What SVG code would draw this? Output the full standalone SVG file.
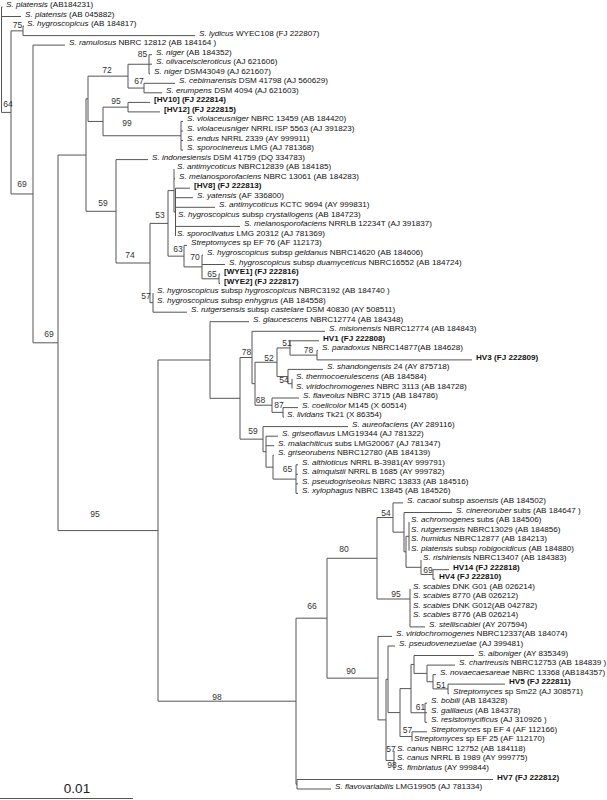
<svg xmlns="http://www.w3.org/2000/svg" width="607" height="800" viewBox="0 0 607 800">
<style>
.b{stroke:#555;stroke-width:1;fill:none}
.t{font-family:"Liberation Sans",Arial,sans-serif;font-size:8.1px;fill:#111}
.i{font-style:italic}
.h{font-weight:bold}
.s{font-family:"Liberation Sans",Arial,sans-serif;font-size:8.5px;fill:#333;text-anchor:middle}
</style>
<rect width="607" height="800" fill="#fff"/>
<g id="connectors" class="b">
<path id="root" d="M1.5 7V112.4M1.5 7H2.5M1.5 16.5H21M1.5 112.4H11"/>
<path id="n64" d="M11 30.85V193.95M11 30.85H23M11 193.95H33"/>
<path id="n75" d="M23 26.1V35.6M23 26.1H24M23 35.6H195"/>
<path id="n69a" d="M33 45.1V342.8M33 45.1H65M33 342.8H58"/>
<path id="n69b" d="M58 155.05V530.6M58 155.05H86M58 530.6H158"/>
<path id="x86" d="M86 98.8V211.3M86 98.8H88M86 211.3H116"/>
<path id="e" d="M88 76.15V121.45M88 76.15H128M88 121.45H103"/>
<path id="n72" d="M128 64.25V88.05M128 64.25H149M128 88.05H144"/>
<path id="n85" d="M149 54.7V73.8M149 54.7H152M149 64.2H152M149 73.8H150"/>
<path id="n67" d="M144 83.3V92.8M144 83.3H175M144 92.8H162"/>
<path id="d" d="M103 107.15V135.75M103 107.15H128M103 135.75H181"/>
<path id="n95a" d="M128 102.4V111.9M128 102.4H150M128 111.9H160"/>
<path id="n99" d="M181 121.4V150.1M181 121.4H183M181 131H183M181 140.5H183M181 150.1H183"/>
<path id="n59a" d="M116 159.6V263M116 159.6H148M116 263H150"/>
<path id="n74" d="M150 223.4V302.65M150 223.4H168M150 302.65H153"/>
<path id="n53" d="M168 190.6V256.15M168 190.6H174M168 256.15H184"/>
<path id="f" d="M174 169.1V212.05M174 178.7H175M174 212.05H175.5"/>
<path id="f2" d="M175.5 188.2V235.9M175.5 188.2H190M175.5 197.7H193M175.5 207.3H215M175.5 226.4H240"/>
<path id="n63" d="M184 245.4V266.9M184 245.4H187M184 266.9H202"/>
<path id="n70" d="M202 255V278.8M202 255H203M202 264.5H225M202 278.8H219"/>
<path id="n65w" d="M219 274V283.6M219 274H220M219 283.6H220"/>
<path id="n57a" d="M153 293.1V312.2M153 312.2H187"/>
<path id="n95" d="M158 360V701.2M158 360H210M158 701.2H296"/>
<path id="a" d="M210 321.7V398.3M210 321.7H249M210 398.3H240"/>
<path id="bb" d="M240 357.5V439.15M240 357.5H252M240 439.15H263"/>
<path id="n78" d="M252 331.3V383.7M252 331.3H325M252 383.7H255"/>
<path id="xa" d="M255 362.25V405.2M255 362.25H277M255 405.2H272"/>
<path id="n52" d="M277 347.95V376.55M277 347.95H290M277 376.55H288"/>
<path id="n51a" d="M290 340.8V355.1M290 340.8H319M290 355.1H317"/>
<path id="n78b" d="M317 350.3V359.9M317 350.3H318M317 359.9H472"/>
<path id="ss" d="M288 369.4V383.7M288 369.4H323M288 383.7H292"/>
<path id="n54a" d="M292 378.9V388.5"/>
<path id="n68" d="M272 398V412.35M272 398H299M272 412.35H283"/>
<path id="n87" d="M283 407.6V417.1M283 407.6H298M283 417.1H284"/>
<path id="n59b" d="M263 426.6V451.7M263 426.6H348M263 451.7H266"/>
<path id="g" d="M266 436.2V467.15M266 436.2H278M266 445.7H274M266 467.15H273"/>
<path id="k" d="M273 455.2V479.1M273 455.2H274M273 479.1H296"/>
<path id="n65a" d="M296 464.8V493.4M296 464.8H298M296 474.3H298M296 483.9H298M296 493.4H298"/>
<path id="n98a" d="M296 618.2V784.25M296 618.2H327M296 784.25H297"/>
<path id="n98b" d="M297 779.5V789M297 779.5H493M297 789H331"/>
<path id="n66" d="M327 558.25V678.15M327 558.25H377M327 678.15H378"/>
<path id="n80" d="M377 517.5V599M377 517.5H393M377 599H410"/>
<path id="n54b" d="M393 502.9V532.15M393 502.9H403M393 532.15H404"/>
<path id="u" d="M404 512.5V551.8M404 512.5H452M404 551.8H406"/>
<path id="v" d="M406 536.3V567.3M406 536.3H409M406 567.3H421"/>
<path id="w" d="M409 522V550.6"/>
<path id="z" d="M421 560.1V574.45M421 574.45H433"/>
<path id="n69c" d="M433 569.7V579.2M433 569.7H449M433 579.2H435"/>
<path id="n95s" d="M410 588.8V626.9M410 626.9H425"/>
<path id="n90" d="M378 636.4V719.9M378 636.4H392M378 719.9H386"/>
<path id="q" d="M386 679.3V760.45M386 679.3H388M386 760.45H394"/>
<path id="r" d="M388 646V712.6M388 646H395M388 712.6H400"/>
<path id="nb" d="M400 688.6V736.55M400 688.6H411M400 736.55H412"/>
<path id="na" d="M411 664.45V712.75M411 664.45H414M411 712.75H425"/>
<path id="n69" d="M414 655.5V673.4M414 655.5H474M414 673.4H427"/>
<path id="n70b" d="M427 665.1V681.75M427 665.1H455M427 681.75H433"/>
<path id="n71" d="M433 674.6V688.9M433 674.6H436M433 688.9H448"/>
<path id="n51b" d="M448 684.1V693.7M448 684.1H505M448 693.7H449"/>
<path id="n61" d="M425 703.2V722.3M425 703.2H427M425 712.7H427M425 722.3H427"/>
<path id="n57e" d="M412 731.8V741.3M412 731.8H427"/>
<path id="n57c" d="M394 750.9V770"/>
</g>
<g id="leaves" class="t">
<text id="l1" x="6" y="7"><tspan class="i">S. platensis</tspan> (AB184231)</text>
<text id="l2" x="25" y="16.5"><tspan class="i">S. platensis</tspan> (AB 045882)</text>
<text id="l3" x="27" y="26.1"><tspan class="i">S. hygroscopicus</tspan> (AB 184817)</text>
<text id="l4" x="199" y="35.6"><tspan class="i">S. lydicus</tspan> WYEC108 (FJ 222807)</text>
<text id="l5" x="69" y="45.1"><tspan class="i">S. ramulosus</tspan> NBRC 12812 (AB 184164 )</text>
<text id="l6" x="156" y="54.7"><tspan class="i">S. niger</tspan> (AB 184352)</text>
<text id="l7" x="156" y="64.2"><tspan class="i">S. olivaceiscleroticus</tspan> (AJ 621606)</text>
<text id="l8" x="154" y="73.8"><tspan class="i">S. niger</tspan> DSM43049 (AJ 621607)</text>
<text id="l9" x="179" y="83.3"><tspan class="i">S. cebimarensis</tspan> DSM 41798 (AJ 560629)</text>
<text id="l10" x="166" y="92.8"><tspan class="i">S. erumpens</tspan> DSM 4094 (AJ 621603)</text>
<text id="l11" x="154" y="102.4" class="h">[HV10] (FJ 222814)</text>
<text id="l12" x="164" y="111.9" class="h">[HV12] (FJ 222815)</text>
<text id="l13" x="187" y="121.4"><tspan class="i">S. violaceusniger</tspan> NBRC 13459 (AB 184420)</text>
<text id="l14" x="187" y="131"><tspan class="i">S. violaceusniger</tspan> NRRL ISP 5563 (AJ 391823)</text>
<text id="l15" x="187" y="140.5"><tspan class="i">S. endus</tspan> NRRL 2339 (AY 999911)</text>
<text id="l16" x="187" y="150.1"><tspan class="i">S. sporocinereus</tspan> LMG (AJ 781368)</text>
<text id="l17" x="152" y="159.6"><tspan class="i">S. indonesiensis</tspan> DSM 41759 (DQ 334783)</text>
<text id="l18" x="177" y="169.1"><tspan class="i">S. antimycoticus</tspan> NBRC12839 (AB 184185)</text>
<text id="l19" x="179" y="178.7"><tspan class="i">S. melanosporofaciens</tspan> NBRC 13061 (AB 184283)</text>
<text id="l20" x="194" y="188.2" class="h">[HV8] (FJ 222813)</text>
<text id="l21" x="197" y="197.7"><tspan class="i">S. yatensis</tspan> (AF 336800)</text>
<text id="l22" x="219" y="207.3"><tspan class="i">S. antimycoticus</tspan> KCTC 9694 (AY 999831)</text>
<text id="l23" x="178" y="216.8"><tspan class="i">S. hygroscopicus</tspan> subsp <tspan class="i">crystallogens</tspan> (AB 184723)</text>
<text id="l24" x="244" y="226.4"><tspan class="i">S. melanosporofaciens</tspan> NRRLB 12234T (AJ 391837)</text>
<text id="l25" x="177" y="235.9"><tspan class="i">S. sporoclivatus</tspan> LMG 20312 (AJ 781369)</text>
<text id="l26" x="191" y="245.4"><tspan class="i">Streptomyces</tspan> sp EF 76 (AF 112173)</text>
<text id="l27" x="207" y="255"><tspan class="i">S. hygroscopicus</tspan> subsp <tspan class="i">geldanus</tspan>  NBRC14620 (AB 184606)</text>
<text id="l28" x="229" y="264.5"><tspan class="i">S. hygroscopicus</tspan> subsp <tspan class="i">duamyceticus</tspan> NBRC16552 (AB 184724)</text>
<text id="l29" x="224" y="274" class="h">[WYE1] (FJ 222816)</text>
<text id="l30" x="224" y="283.6" class="h">[WYE2] (FJ 222817)</text>
<text id="l31" x="157" y="293.1"><tspan class="i">S. hygroscopicus</tspan> subsp <tspan class="i">hygroscopicus</tspan> NBRC3192 (AB 184740 )</text>
<text id="l32" x="157" y="302.6"><tspan class="i">S. hygroscopicus</tspan> subsp <tspan class="i">enhygrus</tspan> (AB 184558)</text>
<text id="l33" x="191" y="312.2"><tspan class="i">S. rutgersensis</tspan> subsp <tspan class="i">castelare</tspan> DSM 40830 (AY 508511)</text>
<text id="l34" x="253" y="321.7"><tspan class="i">S. glaucescens</tspan> NBRC12774 (AB 184348)</text>
<text id="l35" x="329" y="331.3"><tspan class="i">S. misionensis</tspan> NBRC12774 (AB 184843)</text>
<text id="l36" x="323" y="340.8" class="h">HV1 (FJ 222808)</text>
<text id="l37" x="322" y="350.3"><tspan class="i">S. paradoxus</tspan> NBRC14877(AB 184628)</text>
<text id="l38" x="476" y="359.9" class="h">HV3 (FJ 222809)</text>
<text id="l39" x="327" y="369.4"><tspan class="i">S. shandongensis</tspan> 24 (AY 875718)</text>
<text id="l40" x="296" y="378.9"><tspan class="i">S. thermocoerulescens</tspan> (AB 184584)</text>
<text id="l41" x="296" y="388.5"><tspan class="i">S. viridochromogenes</tspan> NBRC 3113 (AB 184728)</text>
<text id="l42" x="303" y="398"><tspan class="i">S. flaveolus</tspan> NBRC 3715 (AB 184786)</text>
<text id="l43" x="302" y="407.6"><tspan class="i">S. coelicolor</tspan> M145 (X 60514)</text>
<text id="l44" x="287" y="417.1"><tspan class="i">S. lividans</tspan> Tk21 (X 86354)</text>
<text id="l45" x="352" y="426.6"><tspan class="i">S. aureofaciens</tspan> (AY 289116)</text>
<text id="l46" x="282" y="436.2"><tspan class="i">S. griseoflavus</tspan> LMG19344 (AJ 781322)</text>
<text id="l47" x="278" y="445.7"><tspan class="i">S. malachiticus</tspan> subs LMG20067 (AJ 781347)</text>
<text id="l48" x="278" y="455.2"><tspan class="i">S. griseorubens</tspan> NBRC12780 (AB 184139)</text>
<text id="l49" x="302" y="464.8"><tspan class="i">S. althioticus</tspan> NRRL B-3981(AY 999791)</text>
<text id="l50" x="302" y="474.3"><tspan class="i">S. almquistii</tspan> NRRL B 1685 (AY 999782)</text>
<text id="l51" x="302" y="483.9"><tspan class="i">S. pseudogriseolus</tspan> NBRC 13833 (AB 184516)</text>
<text id="l52" x="302" y="493.4"><tspan class="i">S. xylophagus</tspan> NBRC 13845 (AB 184526)</text>
<text id="l53" x="407" y="502.9"><tspan class="i">S. cacaoi</tspan> subsp <tspan class="i">asoensis</tspan> (AB 184502)</text>
<text id="l54" x="456" y="512.5"><tspan class="i">S. cinereoruber</tspan> subs (AB 184647 )</text>
<text id="l55" x="411" y="522"><tspan class="i">S. achromogenes</tspan> subs (AB 184506)</text>
<text id="l56" x="411" y="531.5"><tspan class="i">S. rutgersensis</tspan> NBRC13029 (AB 184856)</text>
<text id="l57" x="411" y="541.1"><tspan class="i">S. humidus</tspan> NBRC12877 (AB 184213)</text>
<text id="l58" x="411" y="550.6"><tspan class="i">S. platensis</tspan> subsp <tspan class="i">robigocidicus</tspan> (AB 184880)</text>
<text id="l59" x="423" y="560.1"><tspan class="i">S. rishiriensis</tspan> NBRC13407 (AB 184383)</text>
<text id="l60" x="453" y="569.7" class="h">HV14 (FJ 222818)</text>
<text id="l61" x="439" y="579.2" class="h">HV4 (FJ 222810)</text>
<text id="l62" x="413" y="588.8"><tspan class="i">S. scabies</tspan> DNK G01 (AB 026214)</text>
<text id="l63" x="413" y="598.3"><tspan class="i">S. scabies</tspan> 8770 (AB 026212)</text>
<text id="l64" x="413" y="607.8"><tspan class="i">S. scabies</tspan> DNK G012(AB 042782)</text>
<text id="l65" x="413" y="617.4"><tspan class="i">S. scabies</tspan> 8776 (AB 026214)</text>
<text id="l66" x="429" y="626.9"><tspan class="i">S. stelliscabiei</tspan> (AY 207594)</text>
<text id="l67" x="396" y="636.4"><tspan class="i">S. viridochromogenes</tspan> NBRC12337(AB 184074)</text>
<text id="l68" x="399" y="646"><tspan class="i">S. pseudovenezuelae</tspan> (AJ 399481)</text>
<text id="l69" x="478" y="655.5"><tspan class="i">S. alboniger</tspan> (AY 835349)</text>
<text id="l70" x="459" y="665.1"><tspan class="i">S. chartreusis</tspan> NBRC12753 (AB 184839 )</text>
<text id="l71" x="440" y="674.6"><tspan class="i">S. novaecaesareae</tspan> NBRC 13368 (AB184357)</text>
<text id="l72" x="509" y="684.1" class="h">HV5 (FJ 222811)</text>
<text id="l73" x="453" y="693.7"><tspan class="i">Streptomyces</tspan> sp Sm22 (AJ 308571)</text>
<text id="l74" x="431" y="703.2"><tspan class="i">S. bobili</tspan> (AB 184328)</text>
<text id="l75" x="431" y="712.7"><tspan class="i">S. galilaeus</tspan> (AB 184378)</text>
<text id="l76" x="431" y="722.3"><tspan class="i">S. resistomycificus</tspan> (AJ 310926 )</text>
<text id="l77" x="431" y="731.8"><tspan class="i">Streptomyces</tspan> sp EF 4 (AF 112166)</text>
<text id="l78" x="414" y="741.3"><tspan class="i">Streptomyces</tspan> sp EF 25 (AF 112170)</text>
<text id="l79" x="397" y="750.9"><tspan class="i">S. canus</tspan> NBRC 12752 (AB 184118)</text>
<text id="l80" x="397" y="760.4"><tspan class="i">S. canus</tspan> NRRL B 1989 (AY 999775)</text>
<text id="l81" x="397" y="770"><tspan class="i">S. fimbriatus</tspan> (AY 999844)</text>
<text id="l82" x="497" y="779.5" class="h">HV7 (FJ 222812)</text>
<text id="l83" x="335" y="789"><tspan class="i">S. flavovariabilis</tspan> LMG19905 (AJ 781334)</text>
</g>
<g id="bootstrap" class="s">
<text x="17.5" y="27.5">75</text>
<text x="8" y="107">64</text>
<text x="22" y="187">69</text>
<text x="49" y="337">69</text>
<text x="107" y="73">72</text>
<text x="142.5" y="57">85</text>
<text x="139" y="84">67</text>
<text x="116" y="104">95</text>
<text x="127" y="126">99</text>
<text x="103" y="206">59</text>
<text x="130" y="257.5">74</text>
<text x="160" y="217.5">53</text>
<text x="178" y="252">63</text>
<text x="195" y="260">70</text>
<text x="212" y="277">65</text>
<text x="146" y="299">57</text>
<text x="246.5" y="355">78</text>
<text x="287" y="346">51</text>
<text x="308.5" y="353">78</text>
<text x="269" y="361">52</text>
<text x="284" y="383">54</text>
<text x="260.5" y="403">68</text>
<text x="279" y="408">87</text>
<text x="253" y="434">59</text>
<text x="287.5" y="472">65</text>
<text x="386" y="516">54</text>
<text x="344" y="552">80</text>
<text x="428" y="573">69</text>
<text x="396" y="597">95</text>
<text x="312" y="609">66</text>
<text x="351" y="674">90</text>
<text x="441" y="688">51</text>
<text x="420.5" y="710">61</text>
<text x="407.5" y="733">57</text>
<text x="391" y="752">57</text>
<text x="392" y="768">98</text>
<text x="217" y="700">98</text>
<text x="95" y="517">95</text>
</g>
<g id="scale">
<path class="b" d="M0 798.5H133" stroke-width="1.3"/>
<text x="77" y="793" style="font-family:'Liberation Sans',Arial,sans-serif;font-size:13.5px;fill:#222;text-anchor:middle">0.01</text>
</g>
</svg>
